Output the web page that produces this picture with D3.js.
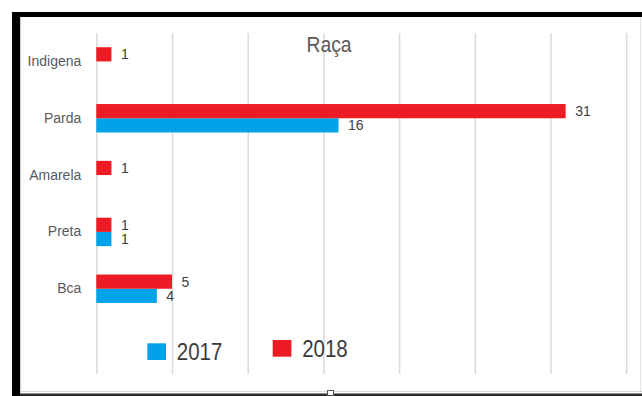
<!DOCTYPE html>
<html>
<head>
<meta charset="utf-8">
<script src="https://cdn.jsdelivr.net/npm/d3@7"></script>
<style>
  html, body { margin: 0; padding: 0; background: #fff; }
  svg { display: block; }
  text { font-family: "Liberation Sans", Arial, sans-serif; }
</style>
</head>
<body>
<svg id="chart" width="642" height="396"></svg>
<script>
// Chart data
const title = "Raça";
const categories = ["Indigena", "Parda", "Amarela", "Preta", "Bca"];
const values2017 = [null, 16, null, 1, 4];
const values2018 = [1, 31, 1, 1, 5];
const seriesNames = ["2017", "2018"];
const xTicks = [0, 5, 10, 15, 20, 25, 30, 35];

const colors = { "2017": "#00A2E8", "2018": "#ED1C24" };

const svg = d3.select("#chart");
const W = 642, H = 396;

// Plot area (one empty row at the bottom holds the legend)
const plotLeft = 96.3, plotRight = 626.2;
const plotTop = 33, plotBottom = 374;
const rowCount = categories.length + 1;
const step = (plotBottom - plotTop) / rowCount;

const x = d3.scaleLinear()
  .domain([xTicks[0], xTicks[xTicks.length - 1]])
  .range([plotLeft, plotRight]);

const y = d3.scaleBand()
  .domain(categories)
  .range([plotTop, plotTop + step * categories.length])
  .paddingInner(0.5)
  .paddingOuter(0.25);

const ySub = d3.scaleBand()
  .domain(["2018", "2017"])
  .range([0, y.bandwidth()]);

// Background
svg.append("rect").attr("x", 0).attr("y", 0).attr("width", W).attr("height", H).attr("fill", "#fff");

// Vertical gridlines
const grid = svg.append("g")
  .attr("transform", `translate(0,${plotBottom})`)
  .call(d3.axisBottom(x).tickValues(xTicks).tickSize(-(plotBottom - plotTop)).tickFormat(""));
grid.select(".domain").remove();
grid.selectAll(".tick line").attr("stroke", "#dcdcdc").attr("stroke-width", 1.6);

// Title
svg.append("text")
  .attr("x", 329).attr("y", 51.5)
  .attr("text-anchor", "middle")
  .attr("font-size", 22)
  .attr("textLength", 45).attr("lengthAdjust", "spacingAndGlyphs")
  .attr("fill", "#595959")
  .text(title);

// Bars
const rows = categories.map((c, i) => ({ cat: c, "2017": values2017[i], "2018": values2018[i] }));
const barData = [];
rows.forEach(r => {
  seriesNames.forEach(s => {
    if (r[s] != null) barData.push({ cat: r.cat, series: s, value: r[s] });
  });
});

svg.append("g").selectAll("rect")
  .data(barData)
  .join("rect")
  .attr("x", x(0))
  .attr("y", d => y(d.cat) + ySub(d.series))
  .attr("width", d => x(d.value) - x(0))
  .attr("height", ySub.bandwidth())
  .attr("fill", d => colors[d.series]);

// Value labels
svg.append("g").selectAll("text")
  .data(barData)
  .join("text")
  .attr("x", d => x(d.value) + 9.5)
  .attr("y", d => y(d.cat) + ySub(d.series) + ySub.bandwidth() / 2)
  .attr("dy", "0.35em")
  .attr("font-size", 14)
  .attr("fill", "#404040")
  .text(d => d.value);

// Category axis
const yAxis = svg.append("g")
  .attr("transform", `translate(${plotLeft},0)`)
  .call(d3.axisLeft(y).tickSize(0).tickPadding(15));
yAxis.select(".domain").remove();
yAxis.selectAll("text")
  .attr("font-size", 14)
  .attr("font-family", "'Liberation Sans', Arial, sans-serif")
  .attr("fill", "#595959");

// Legend
const legendPos = [{ x: 147.3, y: 343.3 }, { x: 272.7, y: 340 }];
const legend = svg.append("g").selectAll("g")
  .data(seriesNames)
  .join("g")
  .attr("transform", (d, i) => `translate(${legendPos[i].x},${legendPos[i].y})`);
legend.append("rect")
  .attr("width", 18.7).attr("height", 16.7)
  .attr("fill", d => colors[d]);
legend.append("text")
  .attr("x", 29.5).attr("y", 16.8)
  .attr("font-size", 23)
  .attr("textLength", 45.5).attr("lengthAdjust", "spacingAndGlyphs")
  .attr("fill", "#3a3a3a")
  .text(d => d);

// Frame
svg.append("line").attr("x1", 640.5).attr("x2", 640.5).attr("y1", 17).attr("y2", 392)
  .attr("stroke", "#e4e4e4").attr("stroke-width", 1);
svg.append("line").attr("x1", 20).attr("x2", 642).attr("y1", 391.5).attr("y2", 391.5)
  .attr("stroke", "#d8d8d8").attr("stroke-width", 1);
svg.append("rect").attr("x", 12).attr("y", 393.5).attr("width", 630).attr("height", 2.5).attr("fill", "#2a2a2a");
svg.append("rect").attr("x", 12).attr("y", 12).attr("width", 630).attr("height", 5).attr("fill", "#000");
svg.append("rect").attr("x", 12).attr("y", 12).attr("width", 8).attr("height", 384).attr("fill", "#000");
svg.append("line").attr("x1", 20.5).attr("x2", 20.5).attr("y1", 17).attr("y2", 393)
  .attr("stroke", "#cfcfcf").attr("stroke-width", 1);
// Resize handle on the bottom edge
svg.append("rect").attr("x", 327.5).attr("y", 390.5).attr("width", 6).attr("height", 5)
  .attr("fill", "#fff").attr("stroke", "#555").attr("stroke-width", 1);
</script>
</body>
</html>
